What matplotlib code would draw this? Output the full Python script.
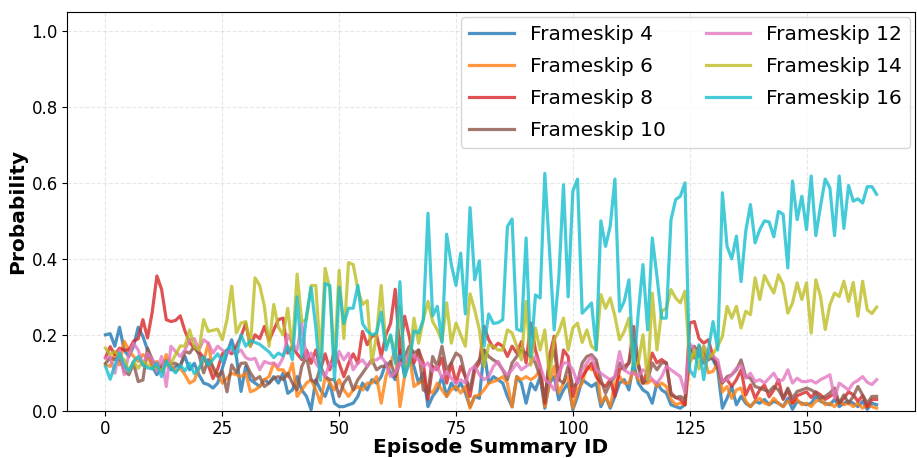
import numpy as np
import matplotlib
matplotlib.use('Agg')
import matplotlib.pyplot as plt

# episode summary ids 0..165
episodes = list(range(166))

fs4 = [0.2, 0.203, 0.17, 0.22, 0.16, 0.143, 0.17, 0.22, 0.196, 0.16,
       0.117, 0.095, 0.121, 0.134, 0.108, 0.117, 0.121, 0.143, 0.108, 0.125,
       0.095, 0.073, 0.069, 0.06, 0.073, 0.112, 0.152, 0.187, 0.143, 0.051,
       0.117, 0.082, 0.073, 0.064, 0.082, 0.073, 0.09, 0.073, 0.099, 0.046,
       0.055, 0.09, 0.055, 0.038, 0.003, 0.082, 0.055, 0.038, 0.073, 0.02,
       0.011, 0.011, 0.016, 0.02, 0.038, 0.073, 0.055, 0.082, 0.073, 0.09,
       0.126, 0.1, 0.082, 0.16, 0.09, 0.143, 0.117, 0.073, 0.1, 0.011,
       0.038, 0.055, 0.09, 0.038, 0.073, 0.055, 0.073, 0.047, 0.011, 0.038,
       0.033, 0.16, 0.073, 0.09, 0.082, 0.073, 0.038, 0.011, 0.09, 0.073,
       0.02, 0.073, 0.055, 0.09, 0.007, 0.073, 0.09, 0.029, 0.055, 0.073,
       0.003, 0.038, 0.082, 0.073, 0.064, 0.073, 0.011, 0.038, 0.007, 0.038,
       0.073, 0.082, 0.055, 0.126, 0.073, 0.055, 0.047, 0.02, 0.073, 0.055,
       0.047, 0.016, 0.011, 0.007, 0.016, 0.17, 0.139, 0.17, 0.126, 0.152,
       0.134, 0.108, 0.007, 0.033, 0.064, 0.016, 0.038, 0.02, 0.011, 0.025,
       0.02, 0.03, 0.016, 0.025, 0.02, 0.011, 0.033, 0.004, 0.025, 0.02,
       0.016, 0.02, 0.038, 0.025, 0.02, 0.016, 0.03, 0.011, 0.02, 0.025,
       0.02, 0.011, 0.025, 0.004, 0.02, 0.016]

fs6 = [0.121, 0.117, 0.151, 0.121, 0.183, 0.16, 0.143, 0.13, 0.148, 0.139,
       0.121, 0.13, 0.108, 0.148, 0.121, 0.104, 0.112, 0.095, 0.073, 0.08,
       0.112, 0.13, 0.178, 0.104, 0.099, 0.073, 0.086, 0.099, 0.095, 0.09,
       0.1, 0.05, 0.055, 0.064, 0.082, 0.09, 0.126, 0.108, 0.108, 0.09,
       0.126, 0.038, 0.055, 0.073, 0.082, 0.055, 0.02, 0.09, 0.073, 0.055,
       0.082, 0.055, 0.038, 0.055, 0.064, 0.055, 0.073, 0.073, 0.09, 0.02,
       0.09, 0.126, 0.16, 0.011, 0.09, 0.152, 0.064, 0.073, 0.082, 0.055,
       0.047, 0.073, 0.055, 0.038, 0.055, 0.064, 0.047, 0.064, 0.007, 0.038,
       0.042, 0.055, 0.073, 0.077, 0.082, 0.09, 0.073, 0.01, 0.09, 0.082,
       0.09, 0.082, 0.09, 0.108, 0.011, 0.073, 0.117, 0.047, 0.073, 0.09,
       0.007, 0.055, 0.073, 0.117, 0.108, 0.126, 0.02, 0.038, 0.011, 0.073,
       0.09, 0.073, 0.073, 0.108, 0.082, 0.073, 0.073, 0.082, 0.064, 0.073,
       0.064, 0.03, 0.016, 0.02, 0.016, 0.126, 0.152, 0.17, 0.143, 0.1,
       0.104, 0.126, 0.05, 0.064, 0.033, 0.055, 0.06, 0.025, 0.011, 0.025,
       0.033, 0.02, 0.016, 0.033, 0.02, 0.011, 0.025, 0.02, 0.03, 0.016,
       0.02, 0.011, 0.025, 0.03, 0.016, 0.02, 0.011, 0.025, 0.016, 0.02,
       0.011, 0.02, 0.007, 0.016, 0.011, 0.007]

fs8 = [0.14, 0.169, 0.148, 0.165, 0.16, 0.16, 0.183, 0.19, 0.24, 0.192,
       0.26, 0.355, 0.32, 0.24, 0.235, 0.238, 0.25, 0.21, 0.18, 0.165,
       0.155, 0.14, 0.12, 0.085, 0.11, 0.15, 0.16, 0.15, 0.17, 0.196,
       0.23, 0.17, 0.2, 0.19, 0.222, 0.185, 0.213, 0.24, 0.244, 0.152,
       0.17, 0.15, 0.135, 0.16, 0.125, 0.16, 0.108, 0.15, 0.108, 0.16,
       0.125, 0.09, 0.125, 0.15, 0.125, 0.209, 0.174, 0.196, 0.2, 0.143,
       0.2, 0.23, 0.32, 0.15, 0.249, 0.196, 0.126, 0.16, 0.126, 0.03,
       0.117, 0.108, 0.139, 0.073, 0.126, 0.073, 0.117, 0.09, 0.038, 0.108,
       0.126, 0.222, 0.187, 0.165, 0.178, 0.17, 0.143, 0.17, 0.152, 0.182,
       0.126, 0.231, 0.16, 0.117, 0.02, 0.143, 0.196, 0.082, 0.16, 0.143,
       0.038, 0.082, 0.09, 0.108, 0.126, 0.09, 0.073, 0.064, 0.082, 0.038,
       0.108, 0.117, 0.126, 0.222, 0.126, 0.073, 0.108, 0.152, 0.126, 0.135,
       0.126, 0.047, 0.035, 0.03, 0.016, 0.231, 0.235, 0.19, 0.178, 0.187,
       0.143, 0.117, 0.077, 0.082, 0.064, 0.082, 0.108, 0.042, 0.068, 0.033,
       0.055, 0.068, 0.037, 0.055, 0.082, 0.03, 0.055, 0.02, 0.04, 0.045,
       0.05, 0.035, 0.05, 0.042, 0.03, 0.038, 0.045, 0.02, 0.033, 0.05,
       0.042, 0.025, 0.04, 0.01, 0.03, 0.03]

fs10 = [0.125, 0.139, 0.135, 0.143, 0.104, 0.095, 0.125, 0.077, 0.081, 0.165,
        0.135, 0.112, 0.116, 0.121, 0.125, 0.125, 0.116, 0.156, 0.152, 0.17,
        0.148, 0.1, 0.135, 0.116, 0.09, 0.104, 0.05, 0.121, 0.1, 0.125,
        0.126, 0.1, 0.082, 0.09, 0.064, 0.073, 0.086, 0.09, 0.082, 0.099,
        0.073, 0.055, 0.117, 0.143, 0.082, 0.073, 0.117, 0.09, 0.082, 0.082,
        0.038, 0.073, 0.09, 0.055, 0.082, 0.099, 0.117, 0.134, 0.108, 0.117,
        0.117, 0.13, 0.09, 0.126, 0.143, 0.17, 0.152, 0.16, 0.055, 0.046,
        0.143, 0.117, 0.17, 0.108, 0.126, 0.152, 0.143, 0.09, 0.055, 0.117,
        0.134, 0.16, 0.143, 0.134, 0.126, 0.108, 0.082, 0.126, 0.143, 0.16,
        0.152, 0.143, 0.126, 0.09, 0.03, 0.126, 0.16, 0.082, 0.073, 0.117,
        0.064, 0.073, 0.126, 0.143, 0.148, 0.134, 0.082, 0.046, 0.073, 0.09,
        0.126, 0.108, 0.126, 0.187, 0.117, 0.073, 0.082, 0.126, 0.108, 0.126,
        0.126, 0.042, 0.035, 0.038, 0.03, 0.156, 0.17, 0.143, 0.16, 0.134,
        0.143, 0.117, 0.073, 0.09, 0.095, 0.108, 0.134, 0.09, 0.086, 0.064,
        0.06, 0.055, 0.051, 0.064, 0.055, 0.033, 0.06, 0.033, 0.051, 0.055,
        0.06, 0.055, 0.047, 0.033, 0.038, 0.047, 0.06, 0.02, 0.042, 0.02,
        0.038, 0.064, 0.042, 0.02, 0.038, 0.038]

fs12 = [0.139, 0.143, 0.099, 0.16, 0.095, 0.148, 0.178, 0.16, 0.12, 0.152,
        0.135, 0.104, 0.143, 0.064, 0.17, 0.156, 0.143, 0.16, 0.187, 0.19,
        0.16, 0.187, 0.178, 0.152, 0.17, 0.16, 0.152, 0.16, 0.152, 0.16,
        0.14, 0.135, 0.138, 0.108, 0.13, 0.125, 0.125, 0.117, 0.14, 0.2,
        0.178, 0.16, 0.231, 0.139, 0.152, 0.126, 0.108, 0.09, 0.126, 0.117,
        0.156, 0.134, 0.152, 0.108, 0.126, 0.134, 0.117, 0.134, 0.134, 0.143,
        0.125, 0.09, 0.1, 0.126, 0.12, 0.152, 0.143, 0.134, 0.117, 0.126,
        0.104, 0.117, 0.086, 0.104, 0.086, 0.073, 0.082, 0.073, 0.108, 0.117,
        0.095, 0.082, 0.09, 0.117, 0.13, 0.108, 0.095, 0.108, 0.126, 0.108,
        0.117, 0.126, 0.143, 0.117, 0.082, 0.073, 0.055, 0.099, 0.126, 0.126,
        0.108, 0.073, 0.108, 0.126, 0.143, 0.108, 0.099, 0.09, 0.082, 0.09,
        0.156, 0.108, 0.099, 0.099, 0.09, 0.108, 0.099, 0.082, 0.073, 0.09,
        0.117, 0.108, 0.099, 0.09, 0.047, 0.178, 0.16, 0.152, 0.17, 0.152,
        0.143, 0.134, 0.077, 0.082, 0.095, 0.112, 0.12, 0.086, 0.099, 0.077,
        0.082, 0.073, 0.086, 0.099, 0.077, 0.082, 0.108, 0.073, 0.086, 0.077,
        0.077, 0.08, 0.073, 0.082, 0.088, 0.095, 0.033, 0.073, 0.064, 0.055,
        0.073, 0.08, 0.09, 0.075, 0.069, 0.082]

fs14 = [0.165, 0.148, 0.156, 0.144, 0.135, 0.104, 0.13, 0.112, 0.13, 0.121,
        0.112, 0.116, 0.104, 0.121, 0.125, 0.148, 0.171, 0.17, 0.213, 0.168,
        0.16, 0.24, 0.209, 0.212, 0.215, 0.187, 0.24, 0.328, 0.205, 0.231,
        0.235, 0.17, 0.35, 0.33, 0.275, 0.17, 0.28, 0.22, 0.2, 0.27,
        0.16, 0.36, 0.235, 0.24, 0.33, 0.33, 0.14, 0.375, 0.32, 0.13,
        0.37, 0.19, 0.39, 0.385, 0.32, 0.28, 0.29, 0.125, 0.2, 0.33,
        0.17, 0.196, 0.152, 0.275, 0.117, 0.126, 0.244, 0.178, 0.24, 0.288,
        0.235, 0.213, 0.183, 0.284, 0.178, 0.231, 0.2, 0.17, 0.308, 0.266,
        0.213, 0.117, 0.174, 0.17, 0.16, 0.16, 0.213, 0.205, 0.17, 0.134,
        0.288, 0.12, 0.218, 0.16, 0.213, 0.09, 0.187, 0.209, 0.244, 0.16,
        0.218, 0.231, 0.18, 0.213, 0.17, 0.16, 0.306, 0.27, 0.297, 0.249,
        0.187, 0.209, 0.244, 0.117, 0.126, 0.2, 0.082, 0.31, 0.16, 0.262,
        0.27, 0.319, 0.297, 0.284, 0.315, 0.13, 0.16, 0.11, 0.17, 0.14,
        0.15, 0.17, 0.196, 0.275, 0.244, 0.275, 0.218, 0.262, 0.253, 0.35,
        0.293, 0.356, 0.332, 0.31, 0.358, 0.332, 0.257, 0.284, 0.337, 0.293,
        0.337, 0.205, 0.345, 0.301, 0.214, 0.279, 0.31, 0.301, 0.341, 0.288,
        0.338, 0.249, 0.341, 0.266, 0.256, 0.273]

fs16 = [0.117, 0.083, 0.12, 0.152, 0.121, 0.104, 0.13, 0.143, 0.121, 0.113,
        0.11, 0.125, 0.09, 0.13, 0.112, 0.1, 0.12, 0.105, 0.125, 0.098,
        0.11, 0.143, 0.12, 0.135, 0.15, 0.13, 0.16, 0.17, 0.145, 0.2,
        0.17, 0.185, 0.18, 0.175, 0.165, 0.155, 0.14, 0.152, 0.145, 0.17,
        0.135, 0.30, 0.14, 0.25, 0.325, 0.22, 0.08, 0.335, 0.33, 0.08,
        0.325, 0.23, 0.27, 0.27, 0.33, 0.23, 0.21, 0.2, 0.205, 0.26,
        0.16, 0.2, 0.125, 0.34, 0.09, 0.125, 0.21, 0.205, 0.24, 0.52,
        0.25, 0.275, 0.18, 0.465, 0.385, 0.33, 0.415, 0.255, 0.535, 0.345,
        0.395, 0.17, 0.255, 0.23, 0.232, 0.24, 0.485, 0.505, 0.215, 0.21,
        0.455, 0.143, 0.305, 0.297, 0.625, 0.425, 0.213, 0.35, 0.595, 0.30,
        0.578, 0.61, 0.257, 0.27, 0.284, 0.16, 0.5, 0.433, 0.486, 0.61,
        0.262, 0.288, 0.345, 0.108, 0.257, 0.385, 0.213, 0.455, 0.354, 0.244,
        0.244, 0.503, 0.556, 0.565, 0.6, 0.108, 0.09, 0.174, 0.082, 0.16,
        0.235, 0.16, 0.574, 0.433, 0.40, 0.46, 0.34, 0.473, 0.543, 0.442,
        0.477, 0.5, 0.497, 0.458, 0.525, 0.517, 0.376, 0.605, 0.503, 0.565,
        0.477, 0.618, 0.461, 0.539, 0.61, 0.587, 0.461, 0.618, 0.48, 0.593,
        0.552, 0.558, 0.547, 0.59, 0.59, 0.57]

labels = ['Frameskip 4', 'Frameskip 6', 'Frameskip 8', 'Frameskip 10',
          'Frameskip 12', 'Frameskip 14', 'Frameskip 16']
series = [fs4, fs6, fs8, fs10, fs12, fs14, fs16]
colors = ['#1f77b4', '#ff7f0e', '#d62728', '#8c564b', '#e377c2', '#bcbd22', '#17becf']

fig, ax = plt.subplots(figsize=(9.17, 4.58), dpi=100)

for vals, lab, col in zip(series, labels, colors):
    ax.plot(episodes, vals, label=lab, color=col, linewidth=2.3, alpha=0.8)

ax.set_ylim(0, 1.05)
ax.set_xlabel('Episode Summary ID', fontsize=14.5, fontweight='bold', labelpad=0)
ax.set_ylabel('Probability', fontsize=14.5, fontweight='bold', labelpad=3)
ax.tick_params(axis='both', labelsize=12, pad=3)
ax.grid(True, linestyle='--', alpha=0.3)
ax.legend(loc='upper right', ncol=2, fontsize=14.5, handlelength=2.2,
          labelspacing=0.65, borderaxespad=0.25)

plt.subplots_adjust(left=0.073, right=0.998, top=0.974, bottom=0.103)
plt.savefig('out.png', dpi=100)
